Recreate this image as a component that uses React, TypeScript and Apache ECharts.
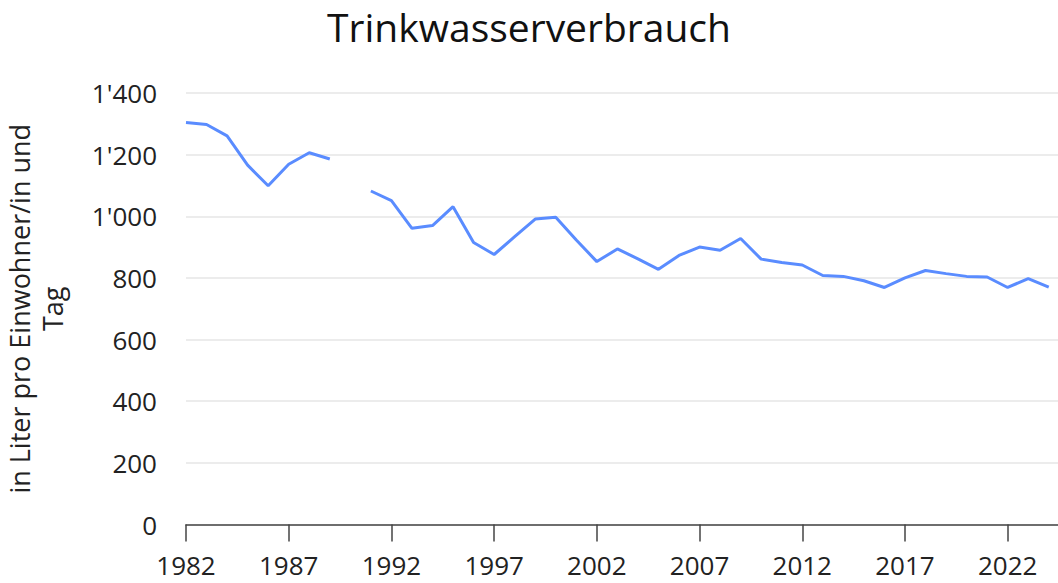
import React, { useEffect, useRef } from "react";
import * as echarts from "echarts";

const TITLE = "Trinkwasserverbrauch";
const Y_NAME = "in Liter pro Einwohner/in und\nTag";

const years: number[] = [];
for (let y = 1982; y <= 2024; y++) years.push(y);

const consumption: (number | null)[] = [
  1304, 1298, 1261, 1166, 1099, 1169, 1206, 1186, null, 1082,
  1051, 961, 970, 1031, 915, 876, 934, 991, 997, 923,
  853, 894, 862, 828, 873, 900, 890, 928, 861, 850,
  842, 808, 805, 791, 769, 800, 824, 814, 805, 803,
  769, 798, 770,
];

const yearTicks = [1982, 1987, 1992, 1997, 2002, 2007, 2012, 2017, 2022];

export default function App() {
  const ref = useRef<HTMLDivElement>(null);
  useEffect(() => {
    document.body.style.margin = "0";
    const chart = echarts.init(ref.current!, null, { renderer: "svg" });
    const labelFont = "'Open Sans', 'Noto Sans', sans-serif";
    chart.setOption({
      animation: false,
      title: {
        text: TITLE,
        left: "center",
        top: 2,
        textStyle: {
          fontFamily: "'Open Sans', 'Noto Sans', sans-serif",
          fontSize: 39,
          fontWeight: 500,
          color: "#111",
        },
      },
      grid: {
        left: 186,
        right: 0,
        top: 93,
        bottom: 58.5,
        containLabel: false,
        outerBoundsMode: "none",
      },
      xAxis: {
        type: "value",
        min: 1982,
        max: 2024.45,
        interval: 5,
        splitLine: { show: false },
        axisLine: { show: true, lineStyle: { color: "#444", width: 1.5 } },
        axisTick: {
          show: true,
          length: 17,
          customValues: yearTicks,
          lineStyle: { color: "#444", width: 1.5 },
        },
        axisLabel: {
          customValues: yearTicks,
          formatter: (v: number) => String(v),
          fontFamily: labelFont,
          fontSize: 26,
          lineHeight: 26,
          color: "#222",
          margin: 27,
        },
      },
      yAxis: {
        type: "value",
        min: 0,
        max: 1400,
        interval: 200,
        name: Y_NAME,
        nameLocation: "middle",
        nameGap: 117,
        nameRotate: 90,
        nameTextStyle: {
          fontFamily: labelFont,
          fontSize: 27,
          color: "#222",
          lineHeight: 33,
        },
        axisLine: { show: false },
        axisTick: { show: false },
        splitLine: { lineStyle: { color: "#e6e6e6", width: 1.5 } },
        axisLabel: {
          fontFamily: labelFont,
          fontSize: 26,
          color: "#222",
          margin: 29,
          formatter: (v: number) =>
            String(v).replace(/\B(?=(\d{3})+(?!\d))/g, "'"),
        },
      },
      series: [
        {
          type: "line",
          data: years.map((y, i) => [y, consumption[i] === null ? "-" : consumption[i]]),
          connectNulls: false,
          showSymbol: false,
          symbol: "none",
          lineStyle: { color: "#5a8cff", width: 3 },
          itemStyle: { color: "#5a8cff" },
        },
      ],
    });
    return () => chart.dispose();
  }, []);
  return <div ref={ref} style={{ width: 1058, height: 583 }} />;
}
